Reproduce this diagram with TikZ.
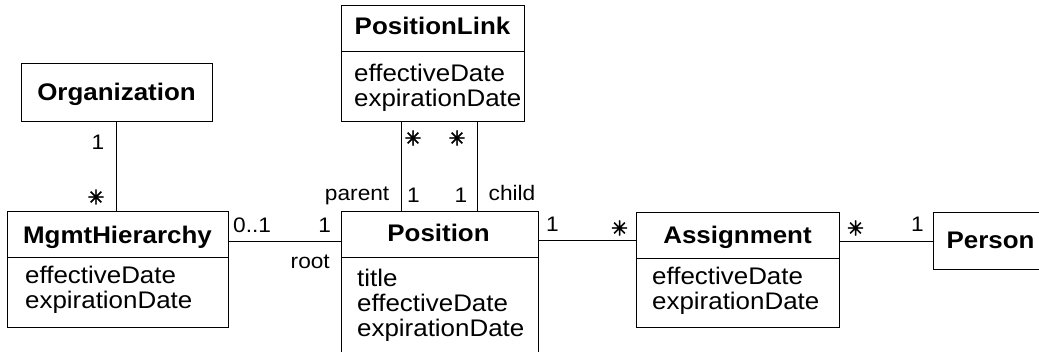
\documentclass[tikz,border=0pt]{standalone}
\usepackage{fontspec}
\setmainfont{Liberation Sans}[FakeStretch=1.08]
\newfontfamily\symfont{DejaVu Sans}[FakeBold=2.5]
\begin{document}
\begin{tikzpicture}[x=1pt,y=-1pt,
  box/.style={draw, line width=1pt, rectangle, inner sep=0pt, outer sep=0pt, anchor=north west},
  ctitle/.style={font=\fontsize{24}{25}\selectfont\bfseries, inner sep=0pt, anchor=base},
  attr/.style={font=\fontsize{24}{25}\selectfont, inner sep=0pt, anchor=base west},
  lbl/.style={font=\fontsize{21}{22}\selectfont, inner sep=0pt, anchor=base},
  mult/.style={font=\symfont\fontsize{20}{20}\selectfont, inner sep=0pt, anchor=center},
  conn/.style={line width=1pt}]
\clip (0,0) rectangle (1039,352);
\fill[white] (0,0) rectangle (1039,352);
% boxes
\node[box, minimum width=191pt, minimum height=58pt] (org) at (21,64) {};
\node[box, minimum width=221pt, minimum height=116pt] (mgmt) at (7,212) {};
\node[box, minimum width=183pt, minimum height=116pt] (plink) at (341,6) {};
\node[box, minimum width=197pt, minimum height=170pt] (pos) at (341,212) {};
\node[box, minimum width=203pt, minimum height=115pt] (asg) at (636,213) {};
\node[box, minimum width=150pt, minimum height=57pt] (person) at (933,213) {};
% dividers
\draw[conn] ([yshift=-46pt]mgmt.north west) -- ([yshift=-46pt]mgmt.north east);
\draw[conn] ([yshift=-46pt]plink.north west) -- ([yshift=-46pt]plink.north east);
\draw[conn] ([yshift=-46pt]pos.north west) -- ([yshift=-46pt]pos.north east);
\draw[conn] ([yshift=-46pt]asg.north west) -- ([yshift=-46pt]asg.north east);
% titles
\node[ctitle] (orgT) at (116.5,101) {Organization};
\node[ctitle] (mgmtT) at (117.5,244) {MgmtHierarchy};
\node[ctitle] (plinkT) at (432.5,35) {PositionLink};
\node[ctitle] (posT) at (438.5,241.7) {Position};
\node[ctitle] (asgT) at (737.5,243.5) {Assignment};
\node[ctitle, anchor=base west] (personT) at (946.5,249) {Person};
% attributes
\node[attr] (plinkA1) at (354,81.5) {effectiveDate};
\node[attr] (plinkA2) at (354,106.5) {expirationDate};
\node[attr] (mgmtA1) at (25,284) {effectiveDate};
\node[attr] (mgmtA2) at (25,309) {expirationDate};
\node[attr] (posA1) at (357,287) {title};
\node[attr] (posA2) at (357,312) {effectiveDate};
\node[attr] (posA3) at (357,337) {expirationDate};
\node[attr] (asgA1) at (652,285) {effectiveDate};
\node[attr] (asgA2) at (652,310) {expirationDate};
% connectors
\draw[conn] (org.south) -- (org.south |- mgmt.north);
\coordinate (m1) at ([yshift=-30pt]mgmt.north east);
\draw[conn] (m1) -- (m1 -| pos.west);
\coordinate (p1) at ([xshift=60pt]plink.south west);
\coordinate (p2) at ([xshift=136.5pt]plink.south west);
\draw[conn] (p1) -- (p1 |- pos.north);
\draw[conn] (p2) -- (p2 |- pos.north);
\coordinate (a1) at ([yshift=-29pt]pos.north east);
\draw[conn] (a1) -- (a1 -| asg.west);
\draw[conn] (person.west -| asg.east) -- (person.west);
% multiplicities and roles
\node[lbl] (orgOne) at (98,149.3) {1};
\node[mult] (mgmtStar) at (96,197) {✳};
\node[lbl, anchor=base west] (mgmtZeroOne) at (233,232.5) {0..1};
\node[lbl] (rootOne) at (324.7,233) {1};
\node[lbl, anchor=base east] (rootLbl) at (330,268.3) {root};
\node[lbl, anchor=base east] (parentLbl) at (389.5,201) {parent};
\node[lbl] (parentOne) at (413.5,202.5) {1};
\node[lbl] (childOne) at (461,202.5) {1};
\node[lbl, anchor=base west] (childLbl) at (488.5,201) {child};
\node[mult] (parentStar) at (413,138) {✳};
\node[mult] (childStar) at (457,138) {✳};
\node[lbl] (posOne) at (552.5,232) {1};
\node[mult] (asgStar) at (619.5,228) {✳};
\node[mult] (asgStar2) at (855.5,228) {✳};
\node[lbl] (personOne) at (917.5,232) {1};
\end{tikzpicture}
\end{document}
